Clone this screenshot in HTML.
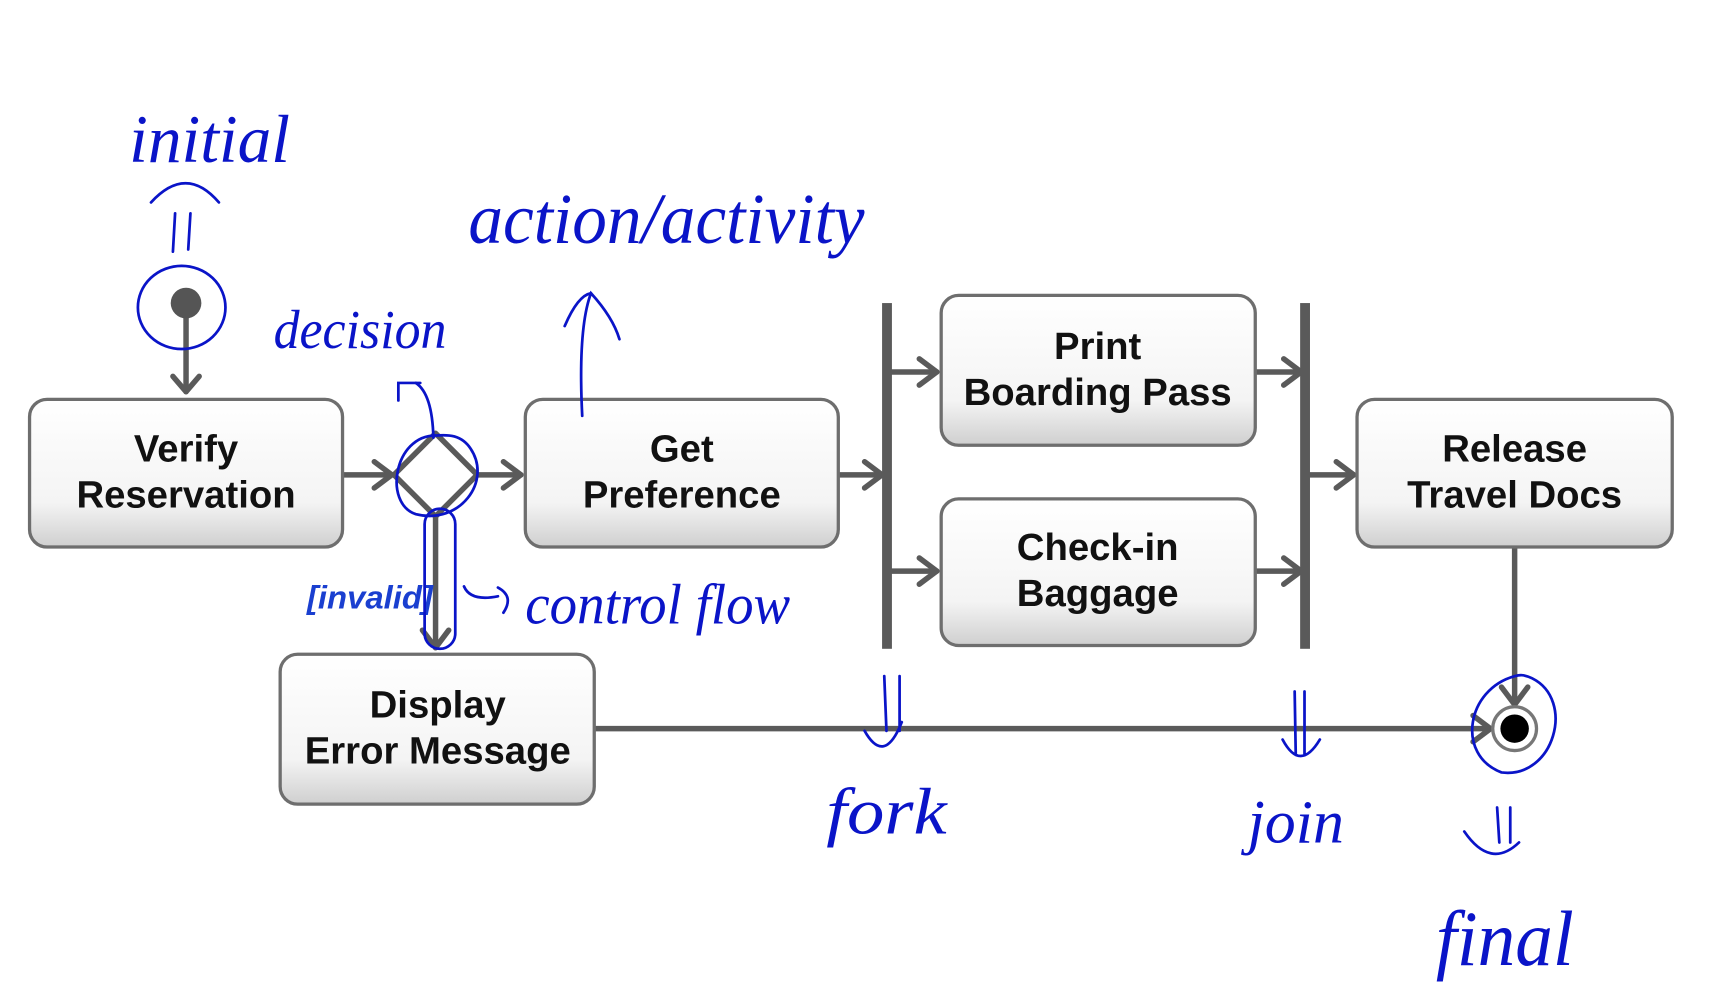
<!DOCTYPE html>
<html><head><meta charset="utf-8"><style>
html,body{margin:0;padding:0;background:#fff;width:1716px;height:1000px;overflow:hidden}
svg{display:block}
.t{font-family:"Liberation Sans",sans-serif;font-weight:bold;font-size:35px;fill:#111;text-anchor:middle}
.h{font-family:"Liberation Serif",serif;font-style:italic;fill:#0a14c8;}
</style></head><body>
<svg width="1716" height="1000" viewBox="0 0 1568 914" preserveAspectRatio="none">
<defs>
<linearGradient id="g" x1="0" y1="0" x2="0" y2="1">
<stop offset="0" stop-color="#ffffff"/><stop offset="0.7" stop-color="#f4f4f4"/><stop offset="1" stop-color="#cfcfcf"/>
</linearGradient>
</defs>
<g stroke="#5a5a5a" stroke-width="5" fill="none" stroke-linecap="round" stroke-linejoin="round">
<line x1="170" y1="277" x2="170" y2="358"/><polyline points="158,344 170,358 182,344"/>
<line x1="313" y1="434" x2="358" y2="434"/><polyline points="342,422 358,434 342,446"/>
<polygon points="398,396 436,434 398,472 360,434"/>
<line x1="436" y1="434" x2="476" y2="434"/><polyline points="460,422 476,434 460,446"/>
<line x1="398" y1="472" x2="398" y2="592"/><polyline points="386,576 398,592 410,576"/>
<line x1="766" y1="434" x2="806" y2="434"/><polyline points="790,422 806,434 790,446"/>
<line x1="812" y1="340" x2="856" y2="340"/><polyline points="840,328 856,340 840,352"/>
<line x1="812" y1="522" x2="856" y2="522"/><polyline points="840,510 856,522 840,534"/>
<line x1="1147" y1="340" x2="1189" y2="340"/><polyline points="1173,328 1189,340 1173,352"/>
<line x1="1147" y1="522" x2="1189" y2="522"/><polyline points="1173,510 1189,522 1173,534"/>
<line x1="1195" y1="434" x2="1237" y2="434"/><polyline points="1221,422 1237,434 1221,446"/>
<line x1="1384" y1="500" x2="1384" y2="644"/><polyline points="1372,628 1384,644 1396,628"/>
<line x1="543" y1="666" x2="1362" y2="666"/><polyline points="1346,654 1362,666 1346,678"/>
</g>
<rect x="806" y="277" width="9" height="316" fill="#5a5a5a"/>
<rect x="1188" y="277" width="9" height="316" fill="#5a5a5a"/>
<circle cx="170" cy="277" r="14" fill="#555"/>
<circle cx="1384" cy="666" r="20" fill="#fff" stroke="#777" stroke-width="3"/>
<circle cx="1384" cy="666" r="13" fill="#000"/>
<g stroke="#6e6e6e" stroke-width="3" fill="url(#g)">
<rect x="27" y="365" width="286" height="135" rx="16"/>
<rect x="480" y="365" width="286" height="135" rx="16"/>
<rect x="1240" y="365" width="288" height="135" rx="16"/>
<rect x="860" y="270" width="287" height="137" rx="16"/>
<rect x="860" y="456" width="287" height="134" rx="16"/>
<rect x="256" y="598" width="287" height="137" rx="16"/>
</g>
<text class="t" x="170" y="422">Verify</text><text class="t" x="170" y="464">Reservation</text>
<text class="t" x="623" y="422">Get</text><text class="t" x="623" y="464">Preference</text>
<text class="t" x="1384" y="422">Release</text><text class="t" x="1384" y="464">Travel Docs</text>
<text class="t" x="1003" y="328">Print</text><text class="t" x="1003" y="370">Boarding Pass</text>
<text class="t" x="1003" y="512">Check-in</text><text class="t" x="1003" y="554">Baggage</text>
<text class="t" x="400" y="656">Display</text><text class="t" x="400" y="698">Error Message</text>
<text x="338" y="556" style="font-family:'Liberation Sans',sans-serif;font-style:italic;font-weight:bold;font-size:30px;fill:#1a3fd0;text-anchor:middle">[invalid]</text>
<g stroke="#0a14c8" stroke-width="2.5" fill="none" stroke-linecap="round">
<ellipse cx="166" cy="281" rx="40" ry="38"/>
<line x1="158" y1="230" x2="160" y2="195"/><line x1="172" y1="228" x2="174" y2="195"/>
<path d="M138,185 Q170,150 200,185"/>
<path d="M380,350 Q395,360 396,400"/><polyline points="364,366 364,350 384,350"/>
<path d="M398,398 C360,398 350,460 380,470 C420,480 450,440 430,410 C420,395 405,398 398,398"/>
<rect x="388" y="465" width="28" height="128" rx="14"/>
<path d="M532,380 Q528,300 540,268 Q560,290 566,310"/><path d="M516,298 Q528,270 540,268"/>
<path d="M424,536 Q430,550 455,545 M455,537 Q470,545 460,560"/>
<path d="M808,618 L810,668 M822,618 L822,668 M790,668 Q808,700 824,660"/>
<path d="M1183,632 L1184,690 M1192,632 L1192,690 M1172,676 Q1188,706 1206,676"/>
<path d="M1368,738 L1370,770 M1380,738 L1380,770 M1338,760 Q1362,795 1388,770"/>
<path d="M1384,618 C1340,630 1330,690 1372,706 C1420,712 1440,640 1400,620 C1392,616 1388,617 1384,618"/>
</g>
<text class="h" x="118" y="148" font-size="62" textLength="147" lengthAdjust="spacingAndGlyphs">initial</text>
<text class="h" x="250" y="318" font-size="50" textLength="158" lengthAdjust="spacingAndGlyphs">decision</text>
<text class="h" x="428" y="222" font-size="66" textLength="362" lengthAdjust="spacingAndGlyphs">action/activity</text>
<text class="h" x="480" y="570" font-size="52" textLength="242" lengthAdjust="spacingAndGlyphs">control flow</text>
<text class="h" x="755" y="762" font-size="60" textLength="110" lengthAdjust="spacingAndGlyphs">fork</text>
<text class="h" x="1140" y="770" font-size="56" textLength="88" lengthAdjust="spacingAndGlyphs">join</text>
<text class="h" x="1312" y="882" font-size="72" textLength="126" lengthAdjust="spacingAndGlyphs">final</text>
</svg>
</body></html>
